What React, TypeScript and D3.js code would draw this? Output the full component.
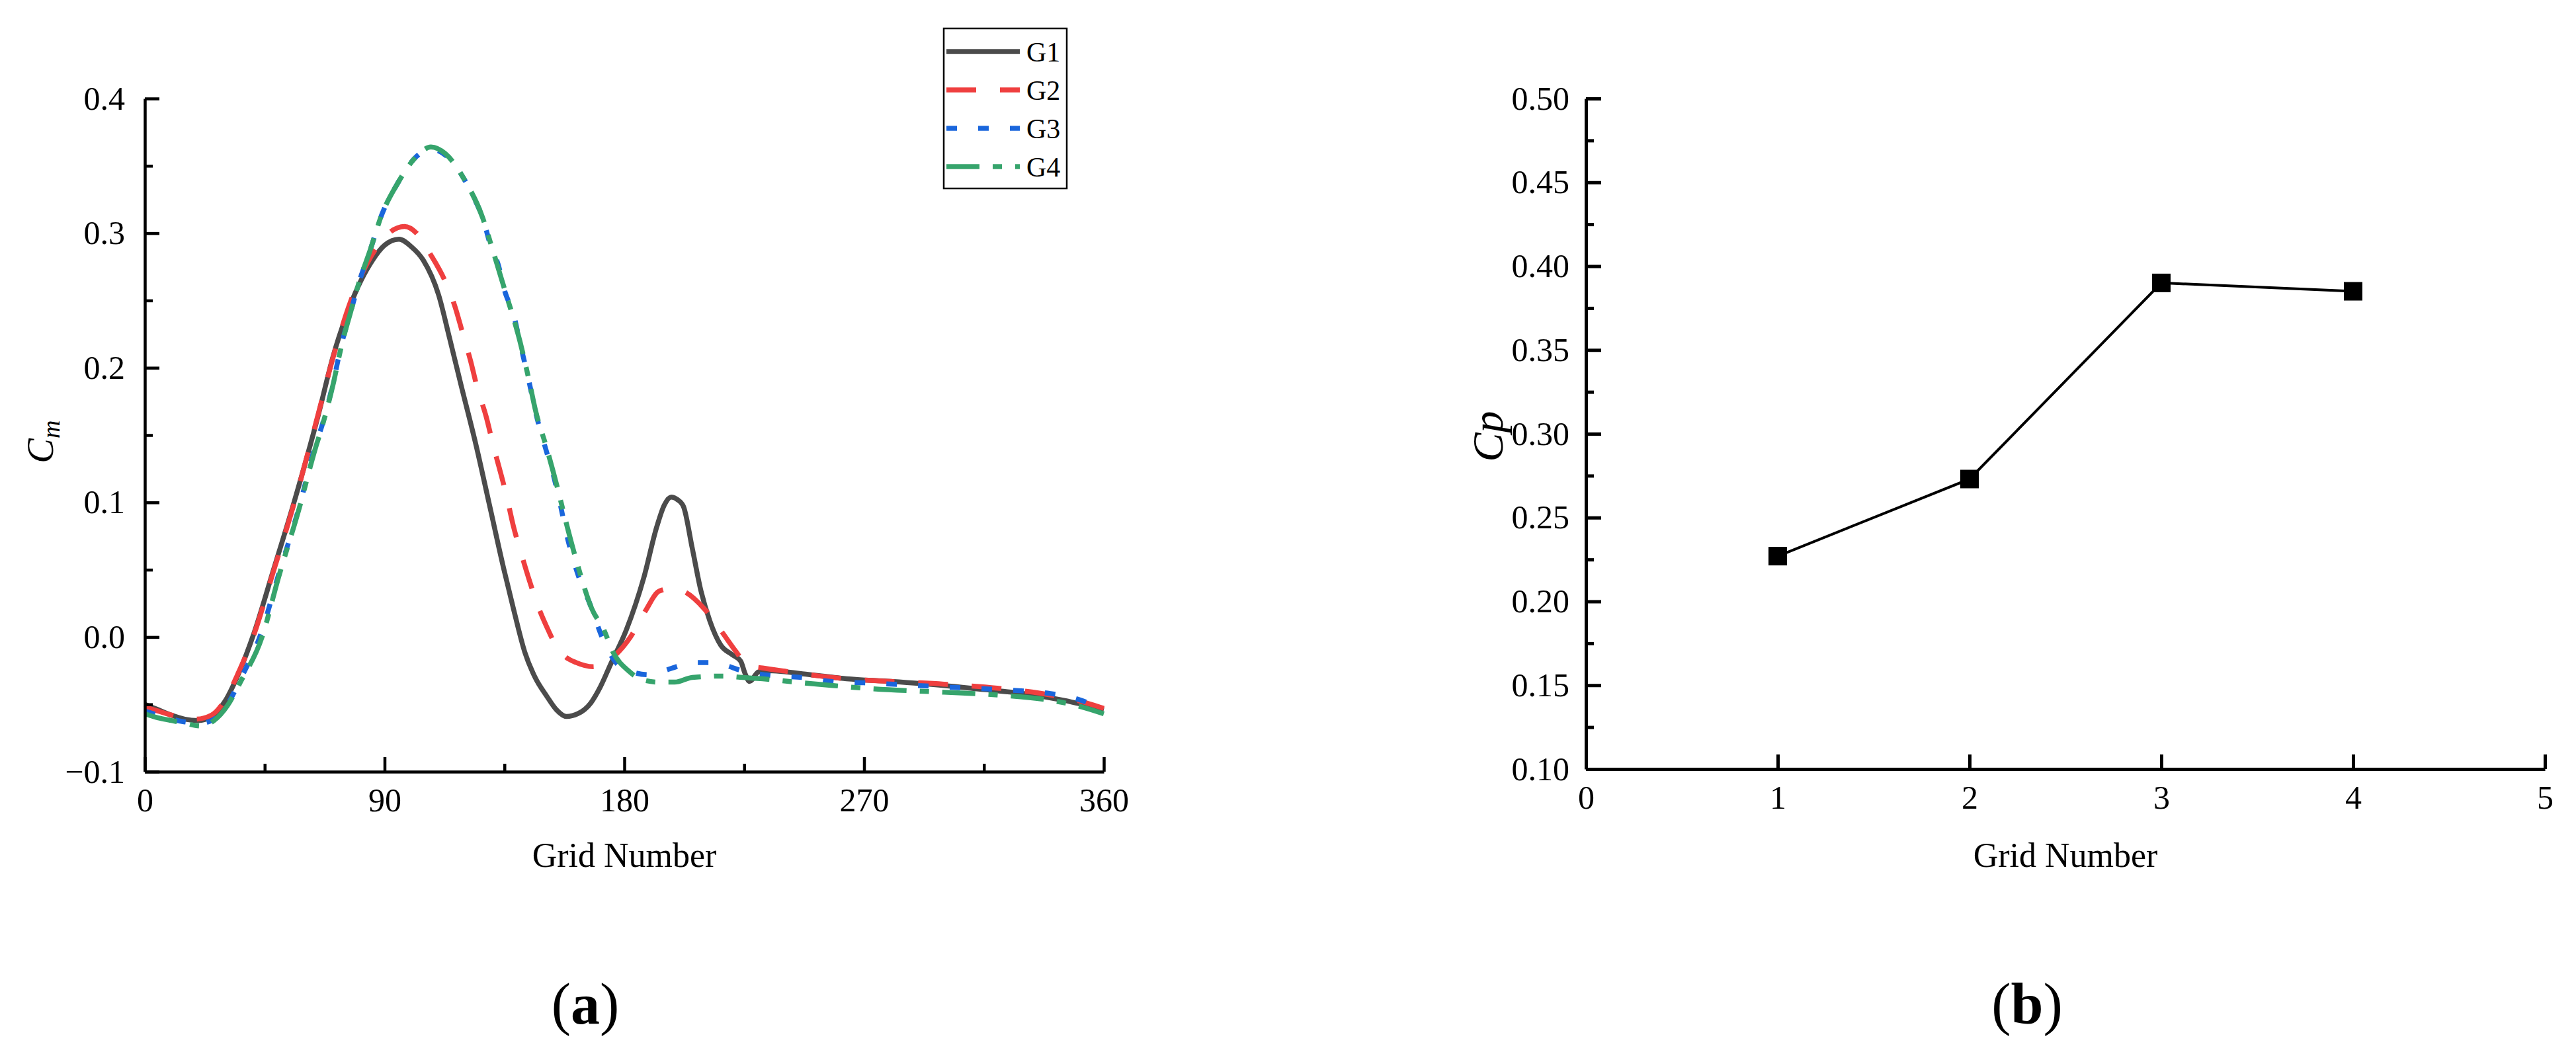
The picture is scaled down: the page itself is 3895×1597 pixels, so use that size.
import React, { useRef, useEffect } from "react";
import * as d3 from "d3";

// (a) moment coefficient over one revolution, [azimuth deg, Cm]
const g1Points = [
  [0, -0.05], [5, -0.054], [10, -0.058], [15, -0.061], [20, -0.062], [25, -0.059], [30, -0.048],
  [35, -0.028], [41, 0.003], [48, 0.048], [56, 0.1], [65, 0.164], [70.6, 0.208], [77, 0.246],
  [85.5, 0.28], [90, 0.291], [95.4, 0.2955], [100, 0.29], [104.5, 0.28], [110.3, 0.254],
  [114.4, 0.222], [118.6, 0.188], [124.4, 0.142], [129.5, 0.097], [134.7, 0.051], [138.5, 0.02],
  [142.6, -0.011], [146.5, -0.03], [150.9, -0.044], [154.5, -0.054], [158.3, -0.059],
  [162.5, -0.057], [167.4, -0.049], [171, -0.037], [174.9, -0.02], [180.7, 0.005], [187.3, 0.044],
  [192.2, 0.082], [195, 0.098], [197.6, 0.104], [200, 0.102], [202.2, 0.097], [205.5, 0.066],
  [208.8, 0.034], [212.1, 0.012], [216.2, -0.006], [220.4, -0.013], [223.7, -0.018],
  [225.3, -0.027], [227, -0.033], [230.3, -0.026], [233.6, -0.025], [250, -0.028],
  [263.4, -0.031], [280, -0.033], [300, -0.036], [315, -0.039], [330, -0.042], [345, -0.047],
  [360, -0.054],
];
const g2Points = [
  [0, -0.052], [5, -0.055], [10, -0.058], [15, -0.06], [19, -0.061], [25, -0.058], [30, -0.047],
  [35, -0.027], [41, 0.002], [48, 0.047], [56, 0.099], [65, 0.165], [71, 0.21], [77, 0.248],
  [85, 0.283], [91, 0.299], [97.5, 0.305], [102, 0.3], [107, 0.285], [112.8, 0.264],
  [116.5, 0.245], [119.4, 0.225], [122.3, 0.205], [124.8, 0.185], [128.1, 0.164], [130.6, 0.144],
  [136, 0.103], [138.4, 0.082], [141.3, 0.062], [144.2, 0.043], [147.5, 0.0235], [151.7, 0.004],
  [154.5, -0.007], [157.5, -0.014], [162, -0.019], [168.2, -0.022], [172, -0.02], [175.7, -0.015],
  [182.3, 0], [188.1, 0.02], [193, 0.034], [197.6, 0.036], [202.2, 0.034], [210, 0.021],
  [216.2, 0.005], [222, -0.011], [226, -0.021], [231.9, -0.023], [242.7, -0.026],
  [251.8, -0.0286], [263.4, -0.031], [280, -0.033], [300, -0.035], [320, -0.038],
  [340, -0.043], [350, -0.047], [360, -0.053],
];
const g3Points = [
  [0, -0.055], [5, -0.058], [10, -0.061], [15, -0.063], [21, -0.064], [26, -0.061], [31, -0.05],
  [36, -0.031], [43.5, 0.002], [50, 0.045], [58, 0.097], [64, 0.142], [66.5, 0.157], [70.6, 0.188],
  [73.9, 0.218], [77.2, 0.241], [80.5, 0.264], [84.7, 0.288], [88.8, 0.313], [94.6, 0.336],
  [102, 0.357], [107.4, 0.3625], [112.8, 0.358], [120.2, 0.339], [123.6, 0.326], [126.9, 0.311],
  [130.2, 0.288], [132.6, 0.277], [135.1, 0.257], [138.5, 0.239], [140.9, 0.218], [144.2, 0.19],
  [146.7, 0.167], [150.9, 0.137], [153, 0.123], [155, 0.107], [159.1, 0.07], [162.4, 0.0475],
  [167.4, 0.023], [171.6, 0], [177.3, -0.02], [183, -0.026], [189.3, -0.028], [195, -0.025],
  [201.3, -0.021], [207, -0.019], [212.1, -0.019], [218, -0.021], [223.3, -0.0245],
  [235.3, -0.0286], [246.9, -0.03], [257.6, -0.033], [270, -0.034], [300, -0.037],
  [320, -0.039], [340, -0.042], [350, -0.046], [360, -0.054],
];
const g4Points = [
  [0, -0.057], [5, -0.06], [10, -0.062], [15, -0.064], [21, -0.066], [26, -0.062], [31, -0.051],
  [36, -0.033], [44, 0], [50, 0.043], [58, 0.096], [64, 0.14], [66.5, 0.156], [70.6, 0.187],
  [73.9, 0.217], [77.2, 0.241], [80.5, 0.264], [84.7, 0.288], [88.8, 0.313], [94.6, 0.336],
  [102, 0.357], [107.4, 0.364], [112.8, 0.359], [120.2, 0.339], [126.9, 0.311], [130.2, 0.29],
  [135.1, 0.258], [140.9, 0.219], [144.2, 0.191], [146.7, 0.168], [150.9, 0.14], [155, 0.11],
  [157.9, 0.087], [162.4, 0.054], [167.8, 0.021], [172.4, 0.005], [175.7, -0.011],
  [181.5, -0.025], [187.3, -0.032], [193, -0.0335], [198.9, -0.0335], [205.5, -0.03],
  [217.1, -0.029], [224.5, -0.03], [231.9, -0.031], [244.4, -0.0335], [258.3, -0.036],
  [270, -0.038], [300, -0.041], [320, -0.043], [340, -0.047], [350, -0.051], [360, -0.057],
];

const seriesNames = ["G1", "G2", "G3", "G4"];
const seriesColors = ["#4b4b4b", "#ef3f3f", "#1a66dc", "#36a46c"];
const seriesDash = [null, "45,36", "16,32", "50,20,14,20"];

// (b) power coefficient per grid
const gridIds = [1, 2, 3, 4];
const cpValues = [0.227, 0.273, 0.39, 0.385];

const cmTicks = [-0.1, 0, 0.1, 0.2, 0.3, 0.4];
const angleTicks = [0, 90, 180, 270, 360];
const cpTicks = [0.1, 0.15, 0.2, 0.25, 0.3, 0.35, 0.4, 0.45, 0.5];
const gridTicks = [0, 1, 2, 3, 4, 5];

const FONT = "'Liberation Serif', 'Times New Roman', serif";

function App() {
  const svgRef = useRef();

  useEffect(() => {
    document.body.style.margin = "0";
    const svg = d3.select(svgRef.current);
    svg.selectAll("*").remove();
    svg.style("font-family", FONT);

    // ---------- left chart ----------
    const xA = d3.scaleLinear().domain([0, 360]).range([219, 1669]);
    const yA = d3.scaleLinear().domain([-0.1, 0.4]).range([1167, 149]);

    const gA = svg.append("g");
    const allSeries = [g1Points, g2Points, g3Points, g4Points];
    const line = d3.line()
      .x(d => xA(d[0]))
      .y(d => yA(d[1]))
      .curve(d3.curveMonotoneX);

    allSeries.forEach((pts, i) => {
      gA.append("path")
        .datum(pts)
        .attr("d", line)
        .attr("fill", "none")
        .attr("stroke", seriesColors[i])
        .attr("stroke-width", 7.5)
        .attr("stroke-dasharray", seriesDash[i]);
    });

    // minor ticks first, majors with labels on top
    gA.append("g")
      .attr("transform", `translate(0,${yA(-0.1)})`)
      .call(d3.axisBottom(xA).tickValues([45, 135, 225, 315]).tickSizeInner(-12).tickSizeOuter(0).tickFormat(""))
      .call(g => g.select(".domain").remove());
    gA.append("g")
      .attr("transform", `translate(${xA(0)},0)`)
      .call(d3.axisLeft(yA).tickValues([-0.05, 0.05, 0.15, 0.25, 0.35]).tickSizeInner(-12).tickSizeOuter(0).tickFormat(""))
      .call(g => g.select(".domain").remove());

    const xAxisA = gA.append("g")
      .attr("transform", `translate(0,${yA(-0.1)})`)
      .call(d3.axisBottom(xA).tickValues(angleTicks).tickFormat(d3.format("d")).tickSizeInner(-22).tickSizeOuter(0).tickPadding(24));
    const yAxisA = gA.append("g")
      .attr("transform", `translate(${xA(0)},0)`)
      .call(d3.axisLeft(yA).tickValues(cmTicks).tickFormat(d3.format(".1f")).tickSizeInner(-22).tickSizeOuter(0).tickPadding(30));

    [xAxisA, yAxisA].forEach(ax => {
      ax.selectAll("text").attr("font-size", 50).attr("font-family", FONT).attr("fill", "#000");
      ax.select(".domain").attr("stroke-width", 4.5);
    });
    gA.selectAll(".tick line").attr("stroke-width", 4.5);

    gA.append("text")
      .attr("x", (xA(0) + xA(360)) / 2)
      .attr("y", 1311)
      .attr("text-anchor", "middle")
      .attr("font-size", 52)
      .text("Grid Number");

    const cm = gA.append("text")
      .attr("transform", "translate(80,668) rotate(-90)")
      .attr("text-anchor", "middle")
      .attr("font-size", 56)
      .attr("font-style", "italic");
    cm.append("tspan").text("C");
    cm.append("tspan").attr("font-size", 38).attr("dy", 10).text("m");

    // legend
    const legend = gA.append("g");
    legend.append("rect")
      .attr("x", 1427).attr("y", 43).attr("width", 186).attr("height", 242)
      .attr("fill", "#fff").attr("stroke", "#000").attr("stroke-width", 2.5);
    seriesNames.forEach((name, i) => {
      const ly = 78 + i * 58;
      legend.append("line")
        .attr("x1", 1431).attr("x2", 1542).attr("y1", ly).attr("y2", ly)
        .attr("stroke", seriesColors[i]).attr("stroke-width", 7.5)
        .attr("stroke-dasharray", seriesDash[i]);
      legend.append("text")
        .attr("x", 1552).attr("y", ly + 15)
        .attr("font-size", 42)
        .text(name);
    });

    const la = gA.append("text")
      .attr("x", 885).attr("y", 1548)
      .attr("text-anchor", "middle")
      .attr("font-size", 88);
    la.append("tspan").text("(");
    la.append("tspan").attr("font-weight", "bold").text("a");
    la.append("tspan").text(")");

    // ---------- right chart ----------
    const xB = d3.scaleLinear().domain([0, 5]).range([2398, 3848]);
    const yB = d3.scaleLinear().domain([0.1, 0.5]).range([1163, 149]);
    const gB = svg.append("g");

    gB.append("g")
      .attr("transform", `translate(${xB(0)},0)`)
      .call(d3.axisLeft(yB).tickValues(d3.range(0.125, 0.5, 0.05)).tickSizeInner(-12).tickSizeOuter(0).tickFormat(""))
      .call(g => g.select(".domain").remove());

    const xAxisB = gB.append("g")
      .attr("transform", `translate(0,${yB(0.1)})`)
      .call(d3.axisBottom(xB).tickValues(gridTicks).tickFormat(d3.format("d")).tickSizeInner(-22).tickSizeOuter(0).tickPadding(24));
    const yAxisB = gB.append("g")
      .attr("transform", `translate(${xB(0)},0)`)
      .call(d3.axisLeft(yB).tickValues(cpTicks).tickFormat(d3.format(".2f")).tickSizeInner(-23).tickSizeOuter(0).tickPadding(25));

    [xAxisB, yAxisB].forEach(ax => {
      ax.selectAll("text").attr("font-size", 50).attr("font-family", FONT).attr("fill", "#000");
      ax.select(".domain").attr("stroke-width", 5);
    });
    gB.selectAll(".tick line").attr("stroke-width", 5);

    const cpLine = d3.line()
      .x((d, i) => xB(gridIds[i]))
      .y(d => yB(d));
    gB.append("path")
      .datum(cpValues)
      .attr("d", cpLine)
      .attr("fill", "none")
      .attr("stroke", "#000")
      .attr("stroke-width", 4);

    const sq = 28;
    gB.selectAll("rect.marker")
      .data(cpValues)
      .join("rect")
      .attr("class", "marker")
      .attr("x", (d, i) => xB(gridIds[i]) - sq / 2)
      .attr("y", d => yB(d) - sq / 2)
      .attr("width", sq)
      .attr("height", sq)
      .attr("fill", "#000");

    gB.append("text")
      .attr("x", (xB(0) + xB(5)) / 2)
      .attr("y", 1311)
      .attr("text-anchor", "middle")
      .attr("font-size", 52)
      .text("Grid Number");

    gB.append("text")
      .attr("transform", "translate(2272,660) rotate(-90)")
      .attr("text-anchor", "middle")
      .attr("font-size", 66)
      .attr("font-style", "italic")
      .text("Cp");

    const lb = gB.append("text")
      .attr("x", 3065).attr("y", 1548)
      .attr("text-anchor", "middle")
      .attr("font-size", 88);
    lb.append("tspan").text("(");
    lb.append("tspan").attr("font-weight", "bold").text("b");
    lb.append("tspan").text(")");
  }, []);

  return (
    <svg
      ref={svgRef}
      width={3895}
      height={1597}
      style={{ position: "absolute", left: 0, top: 0, background: "#fff" }}
    ></svg>
  );
}

export default App;
